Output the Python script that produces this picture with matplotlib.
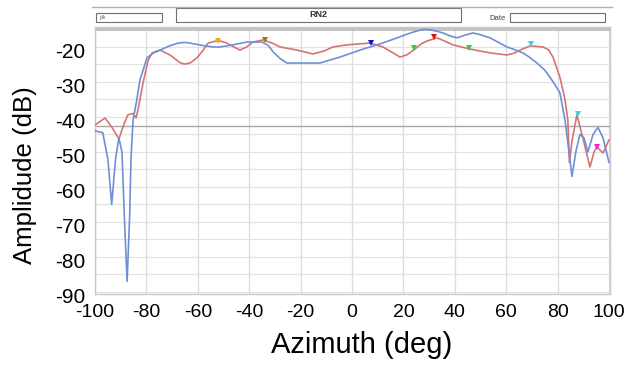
import matplotlib
matplotlib.use("Agg")
import matplotlib.pyplot as plt
from matplotlib.patches import Rectangle
from matplotlib.lines import Line2D
from matplotlib.transforms import ScaledTranslation

plt.rcParams['font.family'] = ['Liberation Sans', 'DejaVu Sans']

# ---- data ----
blue_az = [-100, -97, -95, -93.5, -92, -90.7, -89.5, -88.5, -87.5, -86.5, -86, -85.2,
           -83.7, -82.5, -81, -79.8, -77, -74.7, -71, -67.7, -65, -63, -58, -54, -51.4,
           -47, -43, -40.9, -35, -32.5, -30.7, -28, -25.3, -20.2, -12.5, -4.7, 3.1, 9.7,
           13, 18.7, 22, 25.3, 28, 30.4, 33, 35.4, 38, 40.9, 44, 47.1, 50, 53.7, 57,
           60.3, 63, 66.5, 69, 72, 75, 77, 79, 80.9, 82.9, 84, 85.6, 87.1, 88.7, 90.3,
           91.8, 93.8, 95.7, 97.7, 100]
blue_db = [-44, -44.5, -52, -65, -52, -46, -50, -70, -87, -68, -52, -41,
           -35, -29.4, -26, -23.1, -21.6, -20.9, -19.7, -18.9, -18.7, -18.9, -19.6, -20,
           -20, -19.5, -18.9, -18.6, -18.6, -19.6, -21.4, -23.3, -24.6, -24.6, -24.6,
           -22.9, -20.9, -19.4, -18.6, -17.1, -16.2, -15.4, -15.0, -15.1, -15.5, -16,
           -16.8, -17.4, -16.6, -16, -16.5, -17.4, -18.7, -20, -20.7, -21.7, -22.9, -24.6,
           -26.6, -28.6, -30.8, -33.1, -40.9, -47.4, -57, -50, -45, -46, -50, -45, -43,
           -46, -53]

red_az = [-100, -96.1, -93.4, -90.7, -88.7, -87.2, -85.2, -84, -83.3, -81.3, -79.4,
          -77.8, -74.7, -70.8, -66.9, -65.2, -63, -60.3, -58, -56, -53.5, -51.4, -49,
          -47.5, -43.6, -41, -38.5, -34.6, -31, -28, -21.4, -15.2, -11, -7.4, -1.9, 7,
          12.1, 15.5, 18.7, 21.5, 24.5, 27, 29.2, 33.1, 36, 39.3, 45.9, 53.7, 60.3, 63,
          65.4, 69.3, 74.3, 76.5, 78.2, 80.9, 82.9, 84, 84.6, 85.6, 87.5, 89.5, 92.6,
          94.2, 95.3, 97.7, 100]
red_db = [-42.3, -40.3, -43, -46.3, -42, -39.4, -39, -40.3, -38, -30.3, -24,
          -21.7, -20.9, -22.3, -24.5, -24.9, -24.6, -23.1, -21, -18.9, -18.4, -18.3,
          -18.8, -19.4, -20.9, -20, -18.6, -18, -18.9, -20, -20.9, -22, -21.2, -20, -19.4,
          -18.9, -20, -21.5, -22.9, -22.2, -20.6, -19.1, -18.3, -17.4, -18.3, -19.4,
          -20.6, -21.7, -22.3, -21.8, -20.9, -19.7, -20, -20.8, -22.9, -28.6, -35.1,
          -40.9, -53, -47, -39.4, -45, -54.3, -50, -48.6, -50.3, -46.6]

marker_az = [-52, -34, 7.4, 24.1, 32, 45.5, 69.6, 88, 95.3]
marker_db = [-18.2, -17.9, -18.8, -20.3, -17.3, -20.3, -19.3, -39.2, -48.5]
marker_colors = ['#f5a623', '#a07a10', '#1010e0', '#3ccc3c', '#e41010',
                 '#3ccc3c', '#30d8f0', '#30d8f0', '#f020e0']

x_ticks = [-100, -80, -60, -40, -20, 0, 20, 40, 60, 80, 100]
y_ticks = [-20, -30, -40, -50, -60, -70, -80, -90]
title_text = 'RN2'
x_label = 'Azimuth (deg)'
y_label = 'Amplidude (dB)'

# ---- figure ----
W, H = 633, 365
fig = plt.figure(figsize=(W / 100, H / 100), dpi=100)
fig.patch.set_facecolor('white')

ax = fig.add_axes([95 / W, 1 - 294 / H, 515 / W, 267 / H])
ax.set_xlim(-100, 100.4)
ax.set_ylim(-90.6, -14.3)

# grid
for v in range(-100, 101, 20):
    ax.axvline(v, color='#dcdcdc', lw=0.9, zorder=1)
for v in range(-90, -14, 5):
    ax.axhline(v, color='#e2e2e2', lw=0.9, zorder=1)
ax.axhline(-42.7, color='#a8a8a8', lw=1.0, zorder=1)

# top gray band
ax.add_patch(Rectangle((0, 1 - 4 / 267), 1, 4 / 267, transform=ax.transAxes,
                       facecolor='#c4c4c4', edgecolor='none', zorder=2))

ax.plot(red_az, red_db, color='#d47474', lw=1.2, zorder=3)
ax.plot(blue_az, blue_db, color='#6f8fd6', lw=1.2, zorder=4)
for a, d, c in zip(marker_az, marker_db, marker_colors):
    ax.plot([a], [d], marker='v', color=c, markersize=5, markeredgewidth=0, zorder=5)

for s in ax.spines.values():
    s.set_color('#c8c8c8')
    s.set_linewidth(1.0)

ax.set_xticks(x_ticks)
ax.set_xticklabels([str(t) for t in x_ticks])
ax.set_yticks(y_ticks)
ax.set_yticklabels([str(t) for t in y_ticks])
ax.tick_params(axis='x', length=0, pad=7, labelsize=14)
ax.tick_params(axis='y', length=0, pad=7, labelsize=15)
for lab in ax.get_yticklabels():
    lab.set_transform(lab.get_transform() + ScaledTranslation(0, -0.04, fig.dpi_scale_trans))

fig.text(362 / W, 1 - 345 / H, x_label, ha='center', va='center', fontsize=21)
fig.text(25 / W, 1 - 175 / H, y_label, ha='center', va='center', rotation=90, fontsize=18.5)

# header
fig.add_artist(Line2D([92 / W, 612 / W], [1 - 7 / H, 1 - 7 / H], color='#b0b0b0', lw=1.0))
fig.add_artist(Rectangle((96 / W, 1 - 22 / H), 66 / W, 9 / H, transform=fig.transFigure,
                         facecolor='white', edgecolor='#707070', lw=0.8))
fig.text(99 / W, 1 - 17.5 / H, 'jdk', fontsize=3.5, va='center', color='#555555')
fig.add_artist(Rectangle((176 / W, 1 - 22 / H), 285 / W, 14 / H, transform=fig.transFigure,
                         facecolor='white', edgecolor='#707070', lw=0.8))
fig.text(318 / W, 1 - 14.5 / H, title_text, fontsize=6.5, fontweight='bold',
         ha='center', va='center', color='#333333')
fig.text(497 / W, 1 - 18 / H, 'Date', fontsize=5.5, ha='center', va='center', color='#444444')
fig.add_artist(Rectangle((510 / W, 1 - 22 / H), 95 / W, 9 / H, transform=fig.transFigure,
                         facecolor='white', edgecolor='#707070', lw=0.8))

fig.savefig('out.png', dpi=100)
